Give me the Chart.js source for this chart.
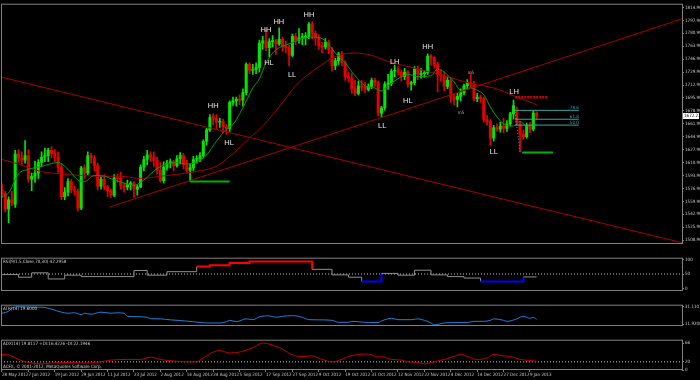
<!DOCTYPE html>
<html>
<head>
<meta charset="utf-8">
<script src="https://cdn.jsdelivr.net/npm/chart.js@4.4.0/dist/chart.umd.min.js"></script>
<style>
html, body { margin: 0; padding: 0; background: #000; }
#wrap { position: relative; width: 700px; height: 380px; background: #000; overflow: hidden; }
#wrap canvas { position: absolute; left: 0; }
</style>
</head>
<body>
<div id="wrap">
  <canvas id="price" width="700" height="254" style="top:0px"></canvas>
  <canvas id="rsi" width="700" height="47" style="top:254px"></canvas>
  <canvas id="atr" width="700" height="35" style="top:301px"></canvas>
  <canvas id="adx" width="700" height="44" style="top:336px"></canvas>
</div>
<script>
// daily XAUUSD bars, 28 May 2012 .. 11 Jan 2013 (bar index 0..162)
var opens = [1575,1570,1550,1562,1556,1622,1617,1614,1620,1589,
  1593,1597,1611,1618,1620,1627,1623,1618,1605,1566,
  1572,1586,1575,1573,1551,1604,1597,1620,1617,1607,
  1580,1589,1579,1574,1568,1591,1590,1581,1579,1582,
  1584,1576,1579,1605,1615,1621,1618,1614,1601,1587,
  1605,1610,1612,1607,1616,1620,1608,1601,1604,1615,
  1616,1620,1639,1654,1672,1669,1664,1665,1658,1656,
  1690,1692,1694,1693,1703,1740,1732,1733,1736,1768,
  1771,1762,1770,1771,1767,1773,1763,1762,1752,1777,
  1772,1775,1776,1777,1793,1781,1775,1764,1763,1769,
  1759,1738,1745,1754,1742,1724,1722,1708,1702,1712,
  1710,1707,1711,1719,1716,1676,1683,1714,1715,1731,
  1732,1730,1724,1730,1714,1716,1734,1727,1728,1729,
  1751,1749,1740,1727,1725,1711,1719,1697,1694,1698,
  1703,1712,1716,1714,1695,1697,1695,1667,1665,1643,
  1657,1655,1659,1656,1662,1675,1680,1662,1648,1645,
  1660,1655,1676];
var highs = [1583,1573,1566,1573,1627,1628,1625,1640,1628,1597,
  1613,1615,1625,1630,1630,1632,1628,1625,1610,1578,
  1590,1589,1580,1576,1606,1608,1625,1623,1620,1610,
  1593,1595,1581,1576,1595,1596,1598,1584,1588,1586,
  1586,1582,1608,1619,1627,1625,1625,1618,1611,1612,
  1614,1616,1614,1620,1624,1623,1614,1609,1619,1620,
  1624,1641,1656,1674,1675,1674,1669,1668,1661,1692,
  1697,1697,1700,1708,1742,1742,1740,1742,1772,1777,
  1786,1774,1778,1773,1788,1776,1771,1765,1780,1781,
  1787,1781,1782,1795,1796,1784,1779,1769,1774,1772,
  1762,1748,1756,1757,1745,1730,1729,1719,1718,1719,
  1716,1714,1722,1722,1718,1685,1717,1727,1734,1739,
  1737,1733,1735,1732,1718,1737,1738,1735,1732,1754,
  1753,1750,1743,1733,1730,1724,1722,1701,1702,1708,
  1714,1720,1729,1718,1702,1700,1697,1673,1667,1660,
  1662,1664,1669,1666,1677,1693,1684,1665,1654,1663,
  1664,1679,1678];
var lows = [1565,1546,1532,1554,1552,1611,1608,1610,1585,1574,
  1585,1590,1606,1612,1612,1617,1612,1598,1562,1562,
  1567,1571,1568,1547,1549,1590,1595,1610,1600,1575,
  1576,1575,1566,1565,1566,1585,1576,1572,1575,1575,
  1565,1568,1578,1600,1608,1612,1606,1596,1585,1584,
  1601,1604,1600,1605,1609,1603,1598,1586,1600,1610,
  1612,1617,1634,1652,1660,1656,1657,1650,1648,1652,
  1686,1685,1687,1685,1700,1728,1727,1728,1730,1760,
  1758,1750,1763,1753,1765,1757,1755,1738,1750,1766,
  1768,1766,1766,1774,1774,1765,1760,1755,1760,1754,
  1731,1733,1740,1738,1719,1717,1702,1699,1700,1705,
  1703,1705,1708,1711,1672,1671,1680,1707,1712,1724,
  1726,1718,1720,1710,1706,1713,1720,1722,1723,1727,
  1739,1735,1704,1718,1705,1708,1690,1687,1684,1692,
  1700,1707,1709,1692,1691,1690,1664,1660,1634,1639,
  1652,1651,1650,1652,1659,1668,1660,1625,1641,1643,
  1650,1653,1668];
var closes = [1570,1550,1562,1558,1622,1617,1614,1620,1589,1593,
  1597,1611,1618,1620,1627,1623,1618,1605,1566,1572,
  1586,1575,1573,1551,1604,1597,1620,1617,1607,1580,
  1589,1579,1574,1568,1591,1590,1581,1579,1582,1584,
  1576,1579,1605,1615,1621,1618,1614,1601,1587,1605,
  1610,1612,1607,1616,1620,1608,1601,1604,1615,1616,
  1620,1639,1654,1670,1669,1664,1665,1658,1656,1690,
  1692,1694,1693,1703,1740,1732,1733,1736,1768,1771,
  1762,1770,1771,1767,1773,1763,1762,1752,1777,1772,
  1775,1776,1777,1793,1781,1775,1764,1763,1769,1759,
  1738,1745,1754,1742,1724,1722,1708,1702,1712,1710,
  1707,1711,1719,1716,1676,1683,1714,1715,1731,1732,
  1730,1724,1730,1714,1716,1734,1727,1728,1729,1751,
  1749,1740,1727,1725,1711,1719,1697,1694,1698,1703,
  1712,1716,1714,1695,1697,1695,1667,1665,1643,1657,
  1655,1659,1656,1662,1675,1686,1664,1648,1645,1660,
  1655,1676,1672.21];

// moving averages (bar index -> price)
var fastIdx = [0,2,5,8,12,17,20,23,25,28,31,34,37,40,43,47,50,53,56,59,62,65,68,70,72,74,76,78,80,83,87,92,95,98,101,104,107,110,113,115,117,120,123,126,130,132,134,137,139,142,144,146,148,150,152,155,157,159,162];
var fastVal = [1566,1571,1596,1602,1606,1611,1602,1588,1586,1594,1593,1588,1584,1581,1588,1603,1609,1611,1609,1612,1621,1639,1655,1661,1675,1692,1709,1721,1742,1759,1767,1775,1776,1771,1755,1742,1725,1712,1709,1705,1712,1721,1727,1724,1725,1734,1730,1717,1706,1709,1706,1700,1684,1671,1662,1659,1665,1659,1661];
var slowIdx = [0,5,12,18,24,30,36,42,48,54,60,65,69,75,79,84,89,96,102,107,112,117,126,134,142,149,155,162];
var slowVal = [1615,1609,1599,1596,1594,1593,1593,1590,1593,1596,1600,1606,1619,1643,1659,1684,1712,1737,1752,1755,1752,1744,1734,1725,1715,1709,1699,1687];

// drawn objects
var trendDownIdx = [-0.3, 206.06];
var trendDownVal = [1723.4, 1505.6];
var trendUpIdx = [32.7, 206.06];
var trendUpVal = [1552.6, 1799.9];
var supportIdx = [[57, 69], [157.6, 167]];
var supportVal = [1586, 1624.1];
var resistIdx = [155.5, 165.5];
var resistVal = 1696.8;
var fibText = ['78.6', '61.8', '50.0'];
var fibVal = [1679.6, 1667.9, 1660.2];
var fibIdx = [155.5, 174.8];
var fibDiagIdx = [155, 157];
var fibDiagVal = [1693, 1625];

var swingText = ['HH','HL','HH','HL','HH','LL','HH','LL','LH','HL','HH','LL','LH'];
var swingIdx = [64, 68.8, 80, 80.9, 83.9, 87.9, 93, 115.2, 119, 123, 129, 149, 155.2];
var swingVal = [1685, 1636.2, 1784.9, 1742.4, 1796.1, 1726.2, 1804.9, 1658.7, 1743.7, 1692.5, 1762.4, 1625, 1703.7];
var fractText = ['m5', 'm5'];
var fractIdx = [142.1, 139.1];
var fractVal = [1728.3, 1676.5];

// indicators
var rsiIdx = [0,5,9,14,19,24,40,44,50,59,63,69,75,94,100,105,109,115,120,125,130,135,140,145,158,162];
var rsiVal = [48,39,54,33,46,41,62,46,58,76,80,88,93,66,47,39,24,52,46,63,47,41,36,24,40,40];
var atrIdx = [0,2,3,5,9,12,15,18,20,22,24,25,27,30,33,35,37,38,41,44,45,48,51,54,58,62,66,68,69,71,74,76,78,81,83,85,88,91,93,96,100,102,105,106,108,111,114,115,118,120,124,126,128,130,131,134,137,141,143,146,148,149,152,153,156,158,160,161,162];
var atrVal = [23.8,26.0,29.3,30.9,30.4,30.4,28.2,25.0,23.8,24.3,22.3,23.8,22.7,25.0,23.8,24.3,23.8,20.5,20.1,19.4,17.9,17.7,16.6,15.9,14.6,13.2,13.2,14.6,16.1,14.6,17.7,16.8,19.9,21.0,19.4,20.5,21.2,19.4,16.8,16.6,16.1,13.9,13.9,15.0,14.6,13.7,13.7,15.4,18.3,16.8,16.8,17.7,16.1,13.2,11.3,13.2,13.7,13.7,15.0,15.0,16.1,17.7,16.1,15.0,17.7,20.5,18.3,19.4,17.2];
var adxIdx = [0,2,5,8,12,15,20,25,30,33,38,42,45,48,52,56,59,61,64,66,69,72,76,79,82,85,88,91,94,97,100,103,105,108,111,114,115,118,121,123,126,128,131,134,137,139,141,144,147,149,152,155,157,160,162];
var adxVal = [38.2,36.9,25.9,18.5,15,17.2,18.5,17.2,20,24.4,25.9,25.9,31.6,25.9,22.2,20,20,29.4,44.1,47.8,41.9,44.1,55,66.4,61,51.3,36.9,33.1,34.7,25.9,20,25.9,33.1,38.2,39,31.6,33.1,25.9,24.4,20,18.5,15,20,25.9,33.1,39,33.1,25.9,29.4,38.2,34.7,31.6,25.9,23.7,21.5];

var priceTicks = [1814.9,1797.9,1780.9,1763.9,1746.9,1729.9,1712.9,1695.9,1678.9,1661.9,1644.9,1627.9,1610.9,1593.9,1576.9,1559.9,1542.9,1525.9,1508.9];
var dateLabels = ['28 May 2012','7 Jun 2012','19 Jun 2012','29 Jun 2012','11 Jul 2012','23 Jul 2012','2 Aug 2012','14 Aug 2012','24 Aug 2012','5 Sep 2012','17 Sep 2012','27 Sep 2012','9 Oct 2012','19 Oct 2012','31 Oct 2012','12 Nov 2012','22 Nov 2012','4 Dec 2012','14 Dec 2012','27 Dec 2012','9 Jan 2013'];
var dateIdx = dateLabels.map(function (d, i) { return i * 8; });

var UP = '#00e600', DOWN = '#e60000';
var FAM = '"Liberation Sans Narrow", "DejaVu Sans Condensed", "Liberation Sans", sans-serif';
var tiny = { family: FAM, size: 4.5 };
Chart.defaults.color = '#c8c8c8';

function pts(idx, val) {
    return idx.map(function (x, i) { return { x: x, y: val[i] }; });
}
function seg(idx, val, color, width, dash) {
    return { type: 'line', data: pts(idx, val), borderColor: color, borderWidth: width,
        borderDash: dash || [], pointRadius: 0, fill: false };
}
function xAxis(show) {
    return {
        type: 'linear', min: -0.3, max: 206.06, offset: false, display: show,
        grid: { drawOnChartArea: false, color: '#808080', tickLength: 2 },
        border: { display: false },
        afterBuildTicks: function (s) { s.ticks = dateIdx.map(function (v) { return { value: v }; }); },
        afterFit: function (s) { s.height = 10; },
        ticks: { autoSkip: false, maxRotation: 0, minRotation: 0, align: 'start', padding: 0, font: tiny,
            callback: function (v, i) { return dateLabels[i]; } }
    };
}
function yAxis(min, max, ticks, fmt) {
    return {
        position: 'right', min: min, max: max,
        grid: { drawOnChartArea: false, color: '#808080', tickLength: 2 },
        border: { display: false },
        afterBuildTicks: function (s) { s.ticks = ticks.map(function (v) { return { value: v }; }); },
        afterFit: function (s) { s.width = 18; },
        ticks: { padding: 1, font: tiny, callback: fmt }
    };
}
var frame = {
    id: 'frame',
    afterDraw: function (chart) {
        var a = chart.chartArea, c = chart.ctx;
        c.save();
        c.strokeStyle = '#808080';
        c.lineWidth = 1;
        c.strokeRect(a.left + 0.5, a.top + 0.5, a.right - a.left, a.bottom - a.top - 1);
        c.restore();
    }
};
function caption(lines) {
    return {
        id: 'caption',
        afterDraw: function (chart) {
            var a = chart.chartArea, c = chart.ctx;
            c.save();
            c.fillStyle = '#d0d0d0';
            c.font = '4.5px ' + FAM;
            c.textAlign = 'left';
            lines.forEach(function (l) {
                c.textBaseline = l.bottom ? 'bottom' : 'top';
                c.fillText(l.text, a.left + 2, l.bottom ? a.bottom - 1 : a.top + 2);
            });
            c.restore();
        }
    };
}
var marks = {
    id: 'marks',
    afterDatasetsDraw: function (chart) {
        var c = chart.ctx, x = chart.scales.x, y = chart.scales.y;
        c.save();
        c.textAlign = 'center';
        c.textBaseline = 'middle';
        c.fillStyle = '#e6e6e6';
        c.font = '7.5px "Liberation Sans", Arial, sans-serif';
        swingText.forEach(function (t, i) {
            c.fillText(t, x.getPixelForValue(swingIdx[i]), y.getPixelForValue(swingVal[i]));
        });
        c.fillStyle = '#b0b0b0';
        c.font = '4.5px ' + FAM;
        fractText.forEach(function (t, i) {
            c.fillText(t, x.getPixelForValue(fractIdx[i]), y.getPixelForValue(fractVal[i]));
        });
        c.fillStyle = '#3aa6a6';
        c.textAlign = 'right';
        c.textBaseline = 'bottom';
        fibText.forEach(function (t, i) {
            c.fillText(t, x.getPixelForValue(fibIdx[1]), y.getPixelForValue(fibVal[i]) - 0.5);
        });
        // last price box on the axis
        var last = closes[closes.length - 1];
        var py = y.getPixelForValue(last);
        c.fillStyle = '#ffffff';
        c.fillRect(683, py - 3, 16, 6);
        c.fillStyle = '#000000';
        c.textAlign = 'left';
        c.textBaseline = 'middle';
        c.fillText(last.toFixed(2), 684, py);
        c.restore();
    }
};

var barIdx = closes.map(function (v, i) { return i; });
function candleColor(ctx) {
    var i = ctx.dataIndex;
    return closes[i] >= opens[i] ? UP : DOWN;
}
var common = { responsive: false, animation: false, devicePixelRatio: 1, events: [],
    plugins: { legend: { display: false }, tooltip: { enabled: false } } };

var priceSets = [];
fibVal.forEach(function (v) { priceSets.push(seg(fibIdx, [v, v], '#3aa6a6', 1)); });
priceSets.push(seg(fibDiagIdx, fibDiagVal, '#3aa6a6', 1, [1, 2]));
priceSets.push(seg(resistIdx, [resistVal, resistVal], '#d00000', 2.5, [2, 1]));
supportVal.forEach(function (v, i) { priceSets.push(seg(supportIdx[i], [v, v], '#00b000', 2)); });
priceSets.push(seg(trendDownIdx, trendDownVal, '#a80000', 1));
priceSets.push(seg(trendUpIdx, trendUpVal, '#a80000', 1));
priceSets.push(Object.assign(seg(fastIdx, fastVal, '#00a000', 1), { cubicInterpolationMode: 'monotone' }));
priceSets.push(Object.assign(seg(slowIdx, slowVal, '#a80000', 1), { cubicInterpolationMode: 'monotone' }));
priceSets.push({ type: 'bar', grouped: false, barThickness: 2.4, minBarLength: 1, borderWidth: 0,
    data: barIdx.map(function (i) { return { x: i, y: [opens[i], closes[i]] }; }),
    backgroundColor: candleColor });
priceSets.push({ type: 'bar', grouped: false, barThickness: 1, borderWidth: 0,
    data: barIdx.map(function (i) { return { x: i, y: [lows[i], highs[i]] }; }),
    backgroundColor: candleColor });

new Chart(document.getElementById('price'), {
    type: 'bar',
    data: { datasets: priceSets },
    options: Object.assign({}, common, {
        layout: { padding: { top: 1, left: 1, right: 0, bottom: 0 } },
        scales: { x: xAxis(false), y: yAxis(1503.85, 1819.85, priceTicks, function (v) { return v.toFixed(2); }) }
    }),
    plugins: [frame, marks]
});

new Chart(document.getElementById('rsi'), {
    type: 'line',
    data: { datasets: [
        { data: pts(rsiIdx, rsiVal), stepped: 'before', pointRadius: 0, borderWidth: 1,
          segment: {
              borderColor: function (s) { var v = s.p0.parsed.y; return v >= 70 ? '#ff0000' : v <= 30 ? '#0000ff' : '#909090'; },
              borderWidth: function (s) { var v = s.p0.parsed.y; return (v >= 70 || v <= 30) ? 2 : 1; }
          } },
        seg([-0.3, 206.06], [50, 50], '#c0c0c0', 1, [1, 2])
    ] },
    options: Object.assign({}, common, {
        layout: { padding: { left: 1 } },
        scales: { x: xAxis(false), y: yAxis(-8.5, 106.1, [100, 50, 0], function (v) { return String(v); }) }
    }),
    plugins: [frame, caption([{ text: 'RSI(9/1.5,Close,70,30) 42.2958' }])]
});

new Chart(document.getElementById('atr'), {
    type: 'line',
    data: { datasets: [
        Object.assign(seg(atrIdx, atrVal, '#1e7fd6', 1), { cubicInterpolationMode: 'monotone' })
    ] },
    options: Object.assign({}, common, {
        layout: { padding: { left: 1 } },
        scales: { x: xAxis(false), y: yAxis(9.93, 33.1, [31.1107, 11.9208], function (v) { return v.toFixed(4); }) }
    }),
    plugins: [frame, caption([{ text: 'ATR(14) 19.6000' }])]
});

new Chart(document.getElementById('adx'), {
    type: 'line',
    data: { datasets: [
        Object.assign(seg(adxIdx, adxVal, '#c00000', 1), { cubicInterpolationMode: 'monotone' }),
        seg([-0.3, 206.06], [20, 20], '#c0c0c0', 1, [1, 2])
    ] },
    options: Object.assign({}, common, {
        layout: { padding: { left: 1 } },
        scales: { x: xAxis(true), y: yAxis(0, 74.4, [66, 20, 0], function (v) { return String(v); }) }
    }),
    plugins: [frame, caption([
        { text: 'ADX(14) 19.8117 +DI:16.4226 -DI:22.1946' },
        { text: 'ACFX, \u00a9 2001-2012, MetaQuotes Software Corp.', bottom: true }
    ])]
});
</script>
</body>
</html>
